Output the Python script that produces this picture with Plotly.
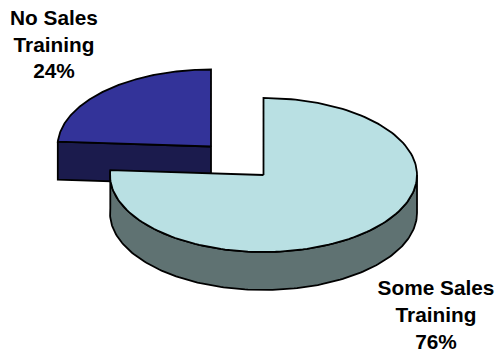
import numpy as np
import plotly.graph_objects as go

categories = ["Some Sales Training", "No Sales Training"]
values = [76, 24]
label_lines = [["Some Sales", "Training", "76%"], ["No Sales", "Training", "24%"]]
top_colors = ["#B9E0E3", "#333399"]
side_colors = ["#5F7272", "#1B1B4D"]

W, H = 496, 352
RX, RY, DEPTH = 153.5, 77, 38
centers = [(263.5, 175), (211, 146.5)]
label_x = [436, 54]
label_y = [[289.5, 316.5, 343.5], [19.5, 46.5, 73]]


def arc(cx, cy, a0, a1, n=160):
    t = np.radians(np.linspace(a0, a1, n))
    return cx + RX * np.sin(t), cy - RY * np.cos(t)


total = sum(values)
big_end = 360 * values[0] / total
angles = [(0, big_end), (big_end, 360)]

fig = go.Figure()


def poly(x, y, color):
    fig.add_trace(go.Scatter(
        x=list(x), y=list(y), mode="lines", fill="toself", fillcolor=color,
        line=dict(color="#000000", width=1.8), hoverinfo="skip", showlegend=False))


# Exploded small slice (behind)
cx, cy = centers[1]
ax, ay = arc(cx, cy, *angles[1])
poly([ax[0], cx, cx, ax[0], ax[0]],
     [ay[0], cy, cy + DEPTH, ay[0] + DEPTH, ay[0]], side_colors[1])
poly(np.r_[cx, ax, cx], np.r_[cy, ay, cy], top_colors[1])

# Large slice
cx, cy = centers[0]
ax, ay = arc(cx, cy, *angles[0])
sx, sy = arc(cx, cy, 90, big_end)
poly(np.r_[sx, sx[::-1], sx[0]], np.r_[sy, sy[::-1] + DEPTH, sy[0]], side_colors[0])
poly(np.r_[cx, ax, cx], np.r_[cy, ay, cy], top_colors[0])

# Labels
for i in range(len(categories)):
    fig.add_trace(go.Scatter(
        x=[label_x[i]] * 3, y=label_y[i], mode="text", text=label_lines[i],
        textposition="middle center", name=categories[i],
        textfont=dict(family="Liberation Sans", size=20.8, color="#000000", weight="bold"),
        hoverinfo="skip", showlegend=False, cliponaxis=False))

fig.update_layout(
    width=W, height=H, margin=dict(l=0, r=0, t=0, b=0),
    paper_bgcolor="#FFFFFF", plot_bgcolor="#FFFFFF", showlegend=False,
    xaxis=dict(range=[0, W], visible=False, fixedrange=True),
    yaxis=dict(range=[H, 0], visible=False, fixedrange=True),
)
fig.write_html("out.html", config={"displayModeBar": False},
               post_script="document.body.style.margin='0';document.documentElement.style.overflow='hidden';")
